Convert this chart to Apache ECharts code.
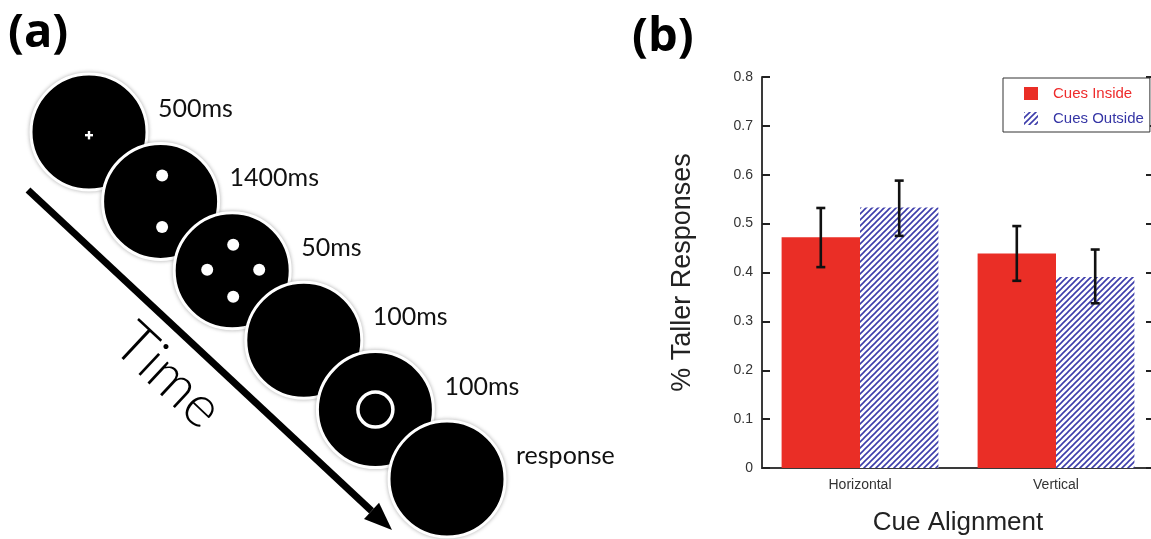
<!DOCTYPE html>
<html><head><meta charset="utf-8">
<script src="https://cdn.jsdelivr.net/npm/echarts@6/dist/echarts.min.js"></script>
<style>html,body{margin:0;padding:0;background:#fff}#c{width:1151px;height:539px}</style>
</head><body><div id="c"></div>
<script>
// ---- Panel (b) data ----
const categories = ['Horizontal', 'Vertical'];
const seriesNames = ['Cues Inside', 'Cues Outside'];
const insideMeans = [0.472, 0.439];
const insideLow = [0.411, 0.383];
const insideHigh = [0.532, 0.495];
const outsideMeans = [0.533, 0.391];
const outsideLow = [0.475, 0.337];
const outsideHigh = [0.588, 0.447];
const yMin = 0, yMax = 0.8, yStep = 0.1;

// ---- Panel (a) data ----
const stages = ['500ms', '1400ms', '50ms', '100ms', '100ms', 'response'];
const stimuli = ['cross', 'twoDots', 'fourDots', 'blank', 'ring', 'blank'];
const timeLabel = 'Time';

const FONT = 'Liberation Sans, Arial, Helvetica, sans-serif';
const FONT_A = 'Lato, Open Sans, sans-serif';
const RED = '#EA2E26';
const BLUE = '#3d3dab';

// hatch pattern
const pc = document.createElement('canvas');
pc.width = 6; pc.height = 6;
const g = pc.getContext('2d');
g.fillStyle = '#fff'; g.fillRect(0, 0, 6, 6);
g.strokeStyle = BLUE; g.lineWidth = 1.6; g.lineCap = 'butt';
g.beginPath();
g.moveTo(-1, 7); g.lineTo(7, -1);
g.moveTo(-1, 1); g.lineTo(1, -1);
g.moveTo(5, 7); g.lineTo(7, 5);
g.stroke();
const hatch = { image: pc, repeat: 'repeat' };

function errRender(offset) {
  return function (params, api) {
    const idx = api.value(0);
    const lo = api.coord([idx, api.value(1)]);
    const hi = api.coord([idx, api.value(2)]);
    const band = api.size([1, 0])[0];
    const x = lo[0] + offset * band;
    const st = { stroke: '#111', lineWidth: 2.6 };
    return { type: 'group', children: [
      { type: 'line', shape: { x1: x, y1: lo[1], x2: x, y2: hi[1] }, style: st },
      { type: 'line', shape: { x1: x - 4.5, y1: lo[1], x2: x + 4.5, y2: lo[1] }, style: st },
      { type: 'line', shape: { x1: x - 4.5, y1: hi[1], x2: x + 4.5, y2: hi[1] }, style: st }
    ]};
  };
}

function stageRender(params, api) {
  const i = params.dataIndex;
  const c = api.coord([api.value(0), api.value(1)]);
  const cx = c[0], cy = c[1];
  const kids = [{
    type: 'circle', shape: { cx, cy, r: 58 },
    style: { fill: '#000', stroke: '#fff', lineWidth: 3, shadowBlur: 4, shadowColor: 'rgba(0,0,0,0.25)' }
  }];
  const kind = stimuli[i];
  const dot = (x, y) => ({ type: 'circle', shape: { cx: x, cy: y, r: 6 }, style: { fill: '#fff' } });
  if (kind === 'cross') {
    kids.push({ type: 'rect', shape: { x: cx - 4, y: cy + 2, width: 8, height: 2.4 }, style: { fill: '#fff' } });
    kids.push({ type: 'rect', shape: { x: cx - 1.2, y: cy - 1, width: 2.4, height: 8.4 }, style: { fill: '#fff' } });
  } else if (kind === 'twoDots') {
    kids.push(dot(cx + 1.5, cy - 26), dot(cx + 1.5, cy + 25.5));
  } else if (kind === 'fourDots') {
    kids.push(dot(cx + 1, cy - 26), dot(cx + 1, cy + 26), dot(cx - 25, cy - 1), dot(cx + 27, cy - 1));
  } else if (kind === 'ring') {
    kids.push({ type: 'circle', shape: { cx, cy, r: 17.5 }, style: { fill: 'none', stroke: '#fff', lineWidth: 3.5 } });
  }
  kids.push({
    type: 'text', x: cx + 69, y: cy - 23,
    style: { text: stages[i], fill: '#111', fontSize: 25, fontFamily: FONT_A, align: 'left', verticalAlign: 'middle' }
  });
  return { type: 'group', children: kids };
}

// arrow geometry
const aStart = [28, 190], aTip = [392, 530];
const dx = aTip[0] - aStart[0], dy = aTip[1] - aStart[1];
const L = Math.hypot(dx, dy), ux = dx / L, uy = dy / L;
const headLen = 28, headHalf = 11;
const bx = aTip[0] - headLen * ux, by = aTip[1] - headLen * uy;

const option = {
  animation: false,
  backgroundColor: '#fff',
  grid: [
    { left: 762, top: 77, width: 392, height: 391, containLabel: false, outerBoundsMode: 'none' },
    { left: 89, top: 132, width: 358, height: 347, containLabel: false, outerBoundsMode: 'none' }
  ],
  legend: {
    orient: 'vertical', left: 1003, top: 78,
    padding: [8, 6, 6, 21], itemGap: 10, itemWidth: 14, itemHeight: 13,
    borderColor: '#333', borderWidth: 1, backgroundColor: '#fff', borderRadius: 0,
    icon: 'rect',
    data: [
      { name: seriesNames[0], textStyle: { color: '#EE2B2B' } },
      { name: seriesNames[1], textStyle: { color: '#3535A5' } }
    ],
    textStyle: { fontSize: 15, fontFamily: FONT, padding: [0, 0, 0, 10] }
  },
  xAxis: [
    { type: 'category', gridIndex: 0, data: categories, position: 'bottom',
      name: 'Cue Alignment', nameLocation: 'middle', nameGap: 42,
      nameTextStyle: { fontSize: 26, fontFamily: FONT, color: '#222' },
      axisLine: { lineStyle: { color: '#3a3a3a', width: 2 } },
      axisTick: { inside: true, length: 7, lineStyle: { color: '#222', width: 2 } },
      axisLabel: { fontSize: 14, fontFamily: FONT, color: '#333', margin: 10 } },
    { type: 'category', gridIndex: 0, data: categories, position: 'top',
      axisLine: { lineStyle: { color: '#3a3a3a', width: 2 } },
      axisTick: { inside: true, length: 7, lineStyle: { color: '#222', width: 2 } },
      axisLabel: { show: false } },
    { type: 'value', gridIndex: 1, min: 0, max: 5, show: false }
  ],
  yAxis: [
    { type: 'value', gridIndex: 0, min: yMin, max: yMax, interval: yStep, position: 'left',
      name: '% Taller Responses', nameLocation: 'middle', nameGap: 66,
      nameTextStyle: { fontSize: 27, fontFamily: FONT, color: '#222' },
      axisLine: { show: true, lineStyle: { color: '#3a3a3a', width: 2 } },
      axisTick: { show: true, inside: true, length: 8, lineStyle: { color: '#222', width: 2 } },
      axisLabel: { fontSize: 14, fontFamily: FONT, color: '#333', margin: 9 },
      splitLine: { show: false } },
    { type: 'value', gridIndex: 0, min: yMin, max: yMax, interval: yStep, position: 'right',
      axisLine: { show: true, lineStyle: { color: '#3a3a3a', width: 2 } },
      axisTick: { show: true, inside: true, length: 8, lineStyle: { color: '#222', width: 2 } },
      axisLabel: { show: false }, splitLine: { show: false } },
    { type: 'value', gridIndex: 1, min: 0, max: 5, inverse: true, show: false }
  ],
  series: [
    { name: seriesNames[0], type: 'bar', xAxisIndex: 0, yAxisIndex: 0, data: insideMeans,
      barWidth: '40%', barGap: '0%', itemStyle: { color: RED } },
    { name: seriesNames[1], type: 'bar', xAxisIndex: 0, yAxisIndex: 0, data: outsideMeans,
      barWidth: '40%', barGap: '0%', itemStyle: { color: hatch } },
    { name: 'errInside', type: 'custom', xAxisIndex: 0, yAxisIndex: 0, z: 5,
      data: categories.map((c, i) => [i, insideLow[i], insideHigh[i]]),
      renderItem: errRender(-0.2) },
    { name: 'errOutside', type: 'custom', xAxisIndex: 0, yAxisIndex: 0, z: 5,
      data: categories.map((c, i) => [i, outsideLow[i], outsideHigh[i]]),
      renderItem: errRender(0.2) },
    { name: 'stages', type: 'custom', xAxisIndex: 2, yAxisIndex: 2, clip: false,
      data: stages.map((s, i) => [i, i]),
      renderItem: stageRender }
  ],
  graphic: [
    { type: 'text', left: 8, top: 10, style: { text: '(a)', fontSize: 47, fontWeight: 'bold', fontFamily: 'Open Sans, sans-serif', fill: '#000' } },
    { type: 'text', left: 632, top: 14, style: { text: '(b)', fontSize: 47, fontWeight: 'bold', fontFamily: 'Open Sans, sans-serif', fill: '#000' } },
    { type: 'line', z: 1, shape: { x1: aStart[0], y1: aStart[1], x2: bx, y2: by }, style: { stroke: '#000', lineWidth: 7 } },
    { type: 'polygon', z: 1, shape: { points: [aTip, [bx - headHalf * uy, by + headHalf * ux], [bx + headHalf * uy, by - headHalf * ux]] }, style: { fill: '#000' } },
    { type: 'text', x: 168, y: 376, rotation: -Math.atan2(dy, dx),
      style: { text: timeLabel, fontSize: 58, fontWeight: 300, fontFamily: FONT_A, fill: '#000', align: 'center', verticalAlign: 'middle' } }
  ]
};
const chart = echarts.init(document.getElementById('c'), null, { renderer: 'canvas' });
chart.setOption(option);
</script>
</body></html>
